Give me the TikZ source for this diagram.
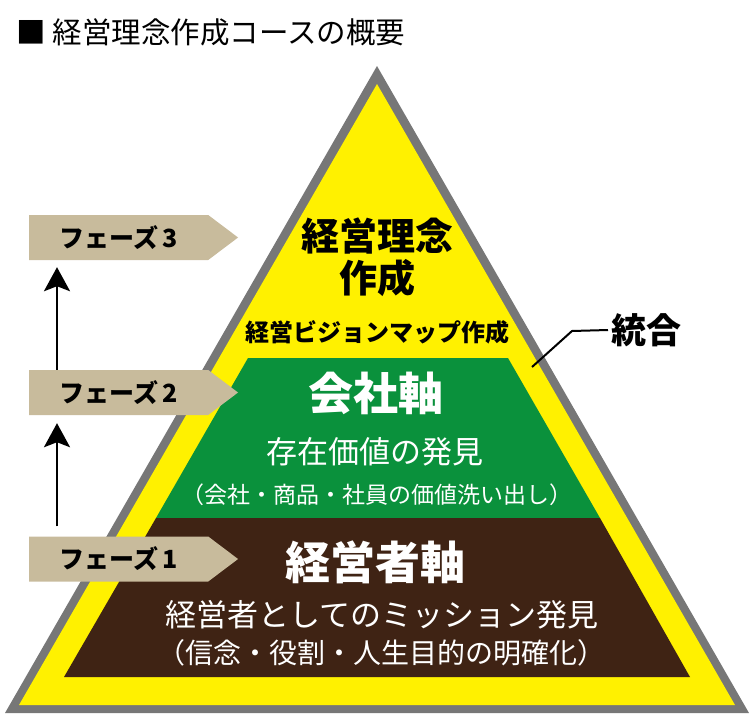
\documentclass[tikz,border=0pt]{standalone}
\usepackage{fontspec}
\setmainfont{Noto Sans CJK JP}
\definecolor{PyrGray}{RGB}{119, 119, 119}
\definecolor{PyrYellow}{RGB}{255, 241, 0}
\definecolor{AxisGreen}{RGB}{10, 145, 60}
\definecolor{AxisBrown}{RGB}{63, 35, 20}
\definecolor{PhaseTan}{RGB}{200, 187, 156}
\newcommand{\fsz}[1]{\fontsize{#1}{#1}\selectfont}
\usetikzlibrary{arrows.meta, shapes.symbols}

\begin{document}
\begin{tikzpicture}[x=1pt, y=-1pt,
        phase/.style={signal, signal to=east, signal pointer angle=74, fill=PhaseTan, minimum height=45pt, text width=119pt, inner xsep=30pt, inner ysep=0pt, align=center, font=\fsz{25}\bfseries, anchor=west},
        toptext/.style={align=center, text=black, font=\fsz{#1}\bfseries},
        axis/.style={align=center, text=white, font=\fsz{#1}\bfseries},
        sub/.style={align=center, text=white, font=\fsz{#1}},
        arrow/.style={line width=2.5pt, -{Stealth[length=24pt, width=26pt, inset=5pt]}}
    ]
        \useasboundingbox (0,0) rectangle (750,718);

        \fill[PyrGray] (377,66) -- (5,713) -- (749,713) -- cycle;
        \fill[PyrYellow] (377,84) -- (19,705) -- (735,705) -- cycle;
        \fill[AxisGreen] (248,358) -- (508,358) -- (600,518) -- (156,518) -- cycle;
        \fill[AxisBrown] (156,518) -- (600,518) -- (690,677) -- (64,677) -- cycle;

        \node[anchor=west, font=\fsz{29.5}] (title) at (13,32) {■ 経営理念作成コースの概要};

        \node[toptext=38] (idea) at (377,257) {経営理念\\[4pt]作成};
        \node[toptext=24] (vision) at (377,332) {経営ビジョンマップ作成};
        \node[axis=45] (company) at (376,393) {会社軸};
        \node[sub=31] (worth) at (375,452) {存在価値の発見};
        \node[sub=23] (worthsub) at (377,495) {（会社・商品・社員の価値洗い出し）};
        \node[axis=45] (owner) at (375,562) {経営者軸};
        \node[sub=31] (mission) at (382,615) {経営者としてのミッション発見};
        \node[sub=28] (missionsub) at (381,653) {（信念・役割・人生目的の明確化）};

        \node[phase] (phase3) at (29,237.5) {フェーズ\kern4pt 3};
        \node[phase] (phase2) at (29,392.5) {フェーズ\kern4pt 2};
        \node[phase] (phase1) at (29,559) {フェーズ\kern4pt 1};

        \node[anchor=west, font=\fsz{35}\bfseries] (merge) at (608,330) {統合};
        \coordinate (lead) at (532,367);
        \coordinate (lane) at (57,0);

        \draw[arrow, shorten <=10pt, shorten >=8pt] (lane |- phase1.north) -- (lane |- phase2.south);
        \draw[arrow, shorten >=7pt] (lane |- phase2.north) -- (lane |- phase3.south);
        \draw[line width=2pt] (lead) -- (572,331) -- (merge.west);
    \end{tikzpicture}
\end{document}
